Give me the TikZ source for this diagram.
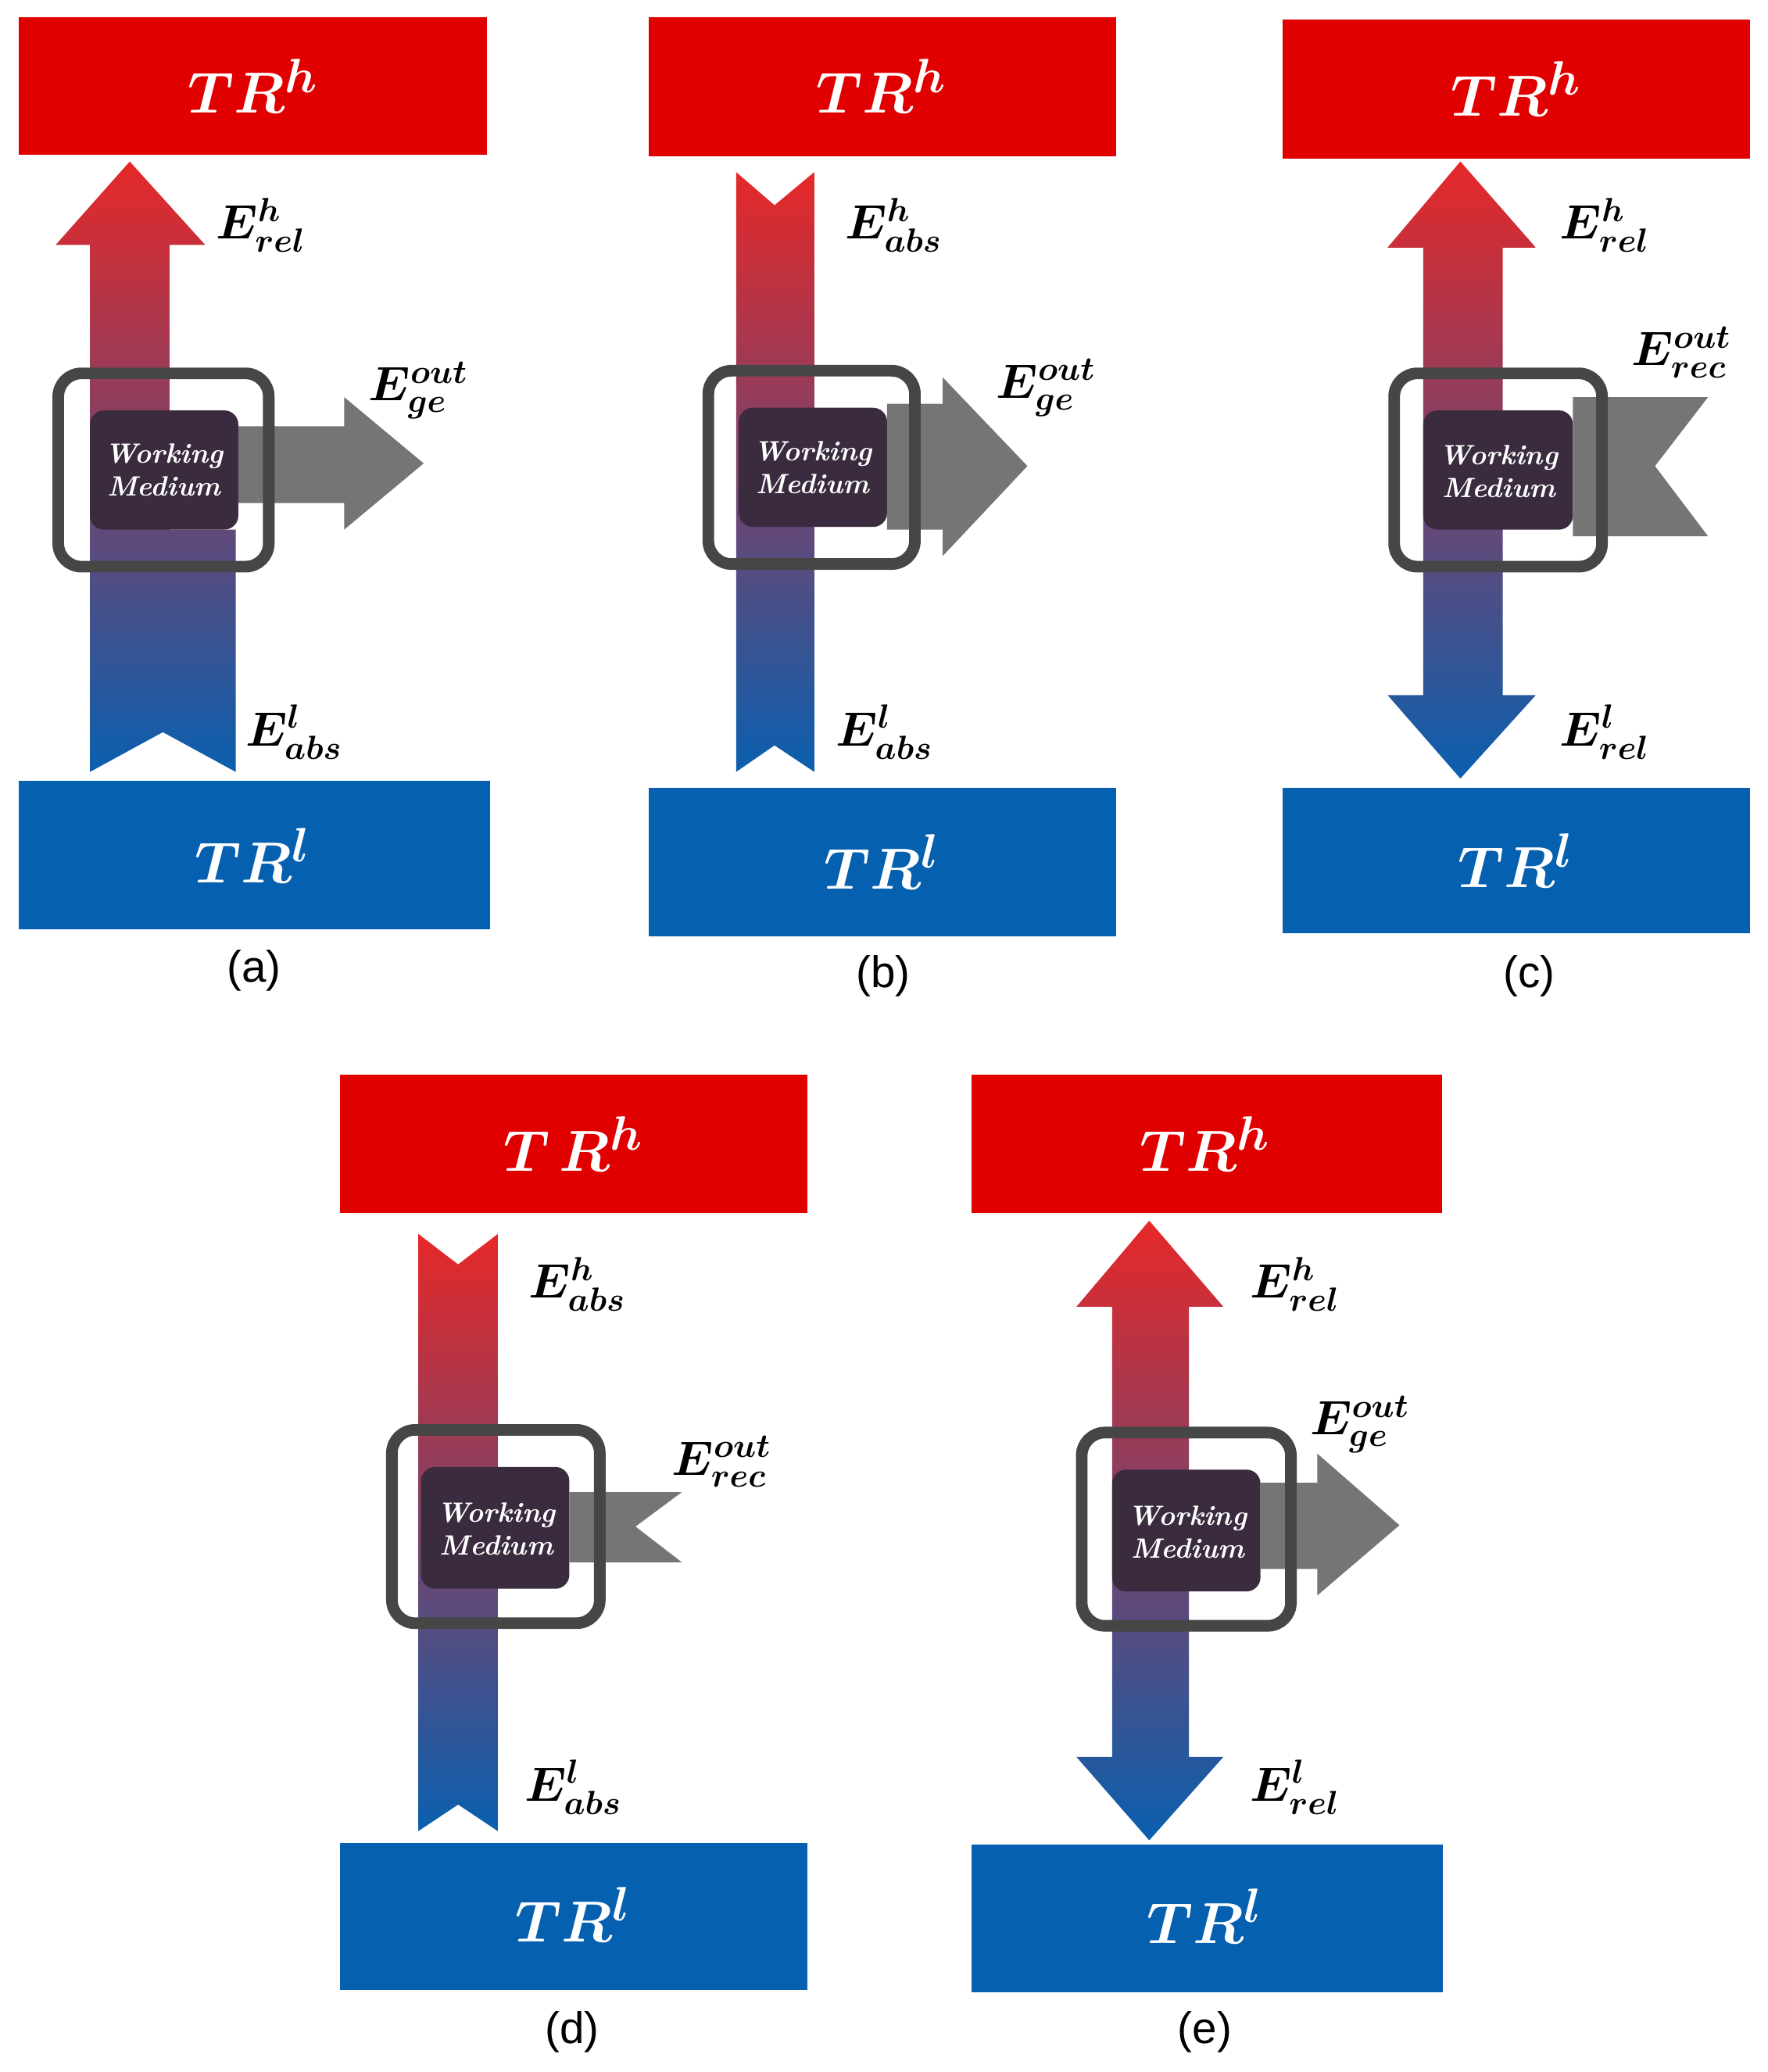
\documentclass[tikz,border=0pt]{standalone}
\usepackage{fontspec}
\usepackage{amsmath}
\usepackage{bm}
\newfontfamily\capfont{Liberation Sans}
\begin{document}
\begin{tikzpicture}[x=0.02cm,y=-0.02cm,
  hot/.style={fill={rgb,255:red,225;green,0;blue,0}},
  cold/.style={fill={rgb,255:red,5;green,96;blue,176}},
  grad/.style={top color={rgb,255:red,230;green,40;blue,40},middle color={rgb,255:red,110;green,60;blue,120},bottom color={rgb,255:red,10;green,95;blue,175}},
  wm/.style={fill={rgb,255:red,58;green,44;blue,62},rounded corners=6pt,draw=none},
  frame/.style={draw={rgb,255:red,70;green,70;blue,70},line width=5pt,rounded corners=10pt},
  ga/.style={fill={rgb,255:red,110;green,110;blue,110},fill opacity=0.95},
  tr/.style={text=white,font=\fontsize{28}{30}\selectfont\bfseries\itshape},
  wt/.style={text=white,align=center,font=\fontsize{12}{14}\selectfont\bfseries\itshape},
  lb/.style={font=\fontsize{22}{24}\selectfont,inner sep=1pt},
  subcap/.style={font=\capfont\fontsize{19}{21}\selectfont}]
\useasboundingbox (0,0) rectangle (1335,1565);
% ===== (a)
\fill[hot] (14,13) rectangle (368,117); \node[tr] (ah) at (191,65) {$\bm{TR^h}$};
\fill[cold] (14,590) rectangle (370,702); \node[tr] (al) at (191,646) {$\bm{TR^l}$};
\shade[grad] (98,122) -- (155,185) -- (128,185) -- (128,400) -- (178,400) -- (178,583) -- (123,553) -- (68,583) -- (68,185) -- (42,185) -- cycle;
\fill[wm] (68,310) rectangle (180,400);
\fill[ga] (180,322) -- (260,322) -- (260,300) -- (320,350) -- (260,400) -- (260,380) -- (180,380) -- cycle;
\draw[frame] (44,282) rectangle (203,428);
\node[wt] (aw) at (124,355) {Working\\Medium};
\node[lb] (a1) at (197,170) {$\bm{E^{h}_{rel}}$};
\node[lb] (a2) at (316,295) {$\bm{E^{out}_{ge}}$};
\node[lb] (a3) at (222,553) {$\bm{E^{l}_{abs}}$};
\node[subcap] (ac) at (192,733) {(a)};
% ===== (b)
\fill[hot] (490,13) rectangle (843,118); \node[tr] (bh) at (666,65) {$\bm{TR^h}$};
\fill[cold] (490,595) rectangle (843,707); \node[tr] (bl) at (666,651) {$\bm{TR^l}$};
\shade[grad] (556,130) -- (585,155) -- (615,130) -- (615,583) -- (585,563) -- (556,583) -- cycle;
\fill[wm] (558,308) rectangle (670,398);
\fill[ga] (670,305) -- (712,305) -- (712,285) -- (776,352) -- (712,420) -- (712,400) -- (670,400) -- cycle;
\draw[frame] (535,280) rectangle (691,426);
\node[wt] (bw) at (614,353) {Working\\Medium};
\node[lb] (b1) at (675,170) {$\bm{E^{h}_{abs}}$};
\node[lb] (b2) at (790,293) {$\bm{E^{out}_{ge}}$};
\node[lb] (b3) at (668,553) {$\bm{E^{l}_{abs}}$};
\node[subcap] (bc) at (667,737) {(b)};
% ===== (c)
\fill[hot] (969,15) rectangle (1322,120); \node[tr] (ch) at (1145,67) {$\bm{TR^h}$};
\fill[cold] (969,595) rectangle (1322,705); \node[tr] (cl) at (1145,650) {$\bm{TR^l}$};
\shade[grad] (1103,122) -- (1160,187) -- (1135,187) -- (1135,525) -- (1160,525) -- (1103,588) -- (1048,525) -- (1075,525) -- (1075,187) -- (1048,187) -- cycle;
\fill[wm] (1075,310) rectangle (1188,400);
\fill[ga] (1188,300) -- (1290,300) -- (1250,352) -- (1290,405) -- (1188,405) -- cycle;
\draw[frame] (1053,282) rectangle (1210,428);
\node[wt] (cw) at (1132,356) {Working\\Medium};
\node[lb] (c1) at (1212,170) {$\bm{E^{h}_{rel}}$};
\node[lb] (c2) at (1270,266) {$\bm{E^{out}_{rec}}$};
\node[lb] (c3) at (1212,553) {$\bm{E^{l}_{rel}}$};
\node[subcap] (cc) at (1155,737) {(c)};
% ===== (d)
\fill[hot] (257,812) rectangle (610,916); \node[tr] (dh) at (433,864) {$\bm{T\,R^h}$};
\fill[cold] (257,1392) rectangle (610,1503); \node[tr] (dl) at (433,1446) {$\bm{TR^l}$};
\shade[grad] (316,932) -- (346,955) -- (376,932) -- (376,1383) -- (346,1363) -- (316,1383) -- cycle;
\fill[wm] (318,1108) rectangle (430,1200);
\fill[ga] (430,1127) -- (515,1127) -- (480,1153) -- (515,1180) -- (430,1180) -- cycle;
\draw[frame] (296,1080) rectangle (453,1226);
\node[wt] (dw) at (375,1155) {Working\\Medium};
\node[lb] (d1) at (436,970) {$\bm{E^{h}_{abs}}$};
\node[lb] (d2) at (545,1104) {$\bm{E^{out}_{rec}}$};
\node[lb] (d3) at (433,1350) {$\bm{E^{l}_{abs}}$};
\node[subcap] (dc) at (432,1535) {(d)};
% ===== (e)
\fill[hot] (734,812) rectangle (1089,916); \node[tr] (eh) at (910,864) {$\bm{TR^h}$};
\fill[cold] (734,1393) rectangle (1090,1505); \node[tr] (el) at (910,1447) {$\bm{TR^l}$};
\shade[grad] (868,922) -- (924,987) -- (898,987) -- (898,1327) -- (924,1327) -- (868,1390) -- (813,1327) -- (840,1327) -- (840,987) -- (813,987) -- cycle;
\fill[wm] (840,1110) rectangle (952,1202);
\fill[ga] (952,1120) -- (995,1120) -- (995,1098) -- (1057,1152) -- (995,1205) -- (995,1185) -- (952,1185) -- cycle;
\draw[frame] (817,1082) rectangle (975,1228);
\node[wt] (ew) at (897,1157) {Working\\Medium};
\node[lb] (e1) at (978,970) {$\bm{E^{h}_{rel}}$};
\node[lb] (e2) at (1027,1076) {$\bm{E^{out}_{ge}}$};
\node[lb] (e3) at (978,1350) {$\bm{E^{l}_{rel}}$};
\node[subcap] (ec) at (910,1535) {(e)};
\end{tikzpicture}
\end{document}
